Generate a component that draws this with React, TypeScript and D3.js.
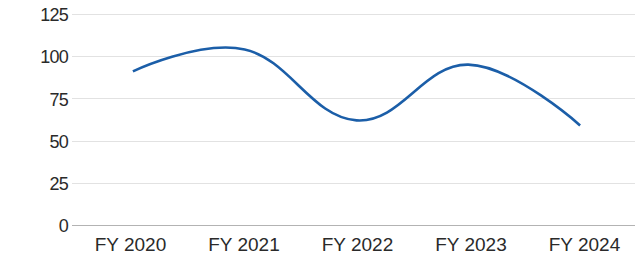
import * as d3 from 'd3';

const width = 635;
const height = 257;
const margin = { top: 14, left: 77, bottom: 32, right: 0 };

const categories = ['FY 2020', 'FY 2021', 'FY 2022', 'FY 2023', 'FY 2024'];
const values = [91, 104, 62, 95, 59];
const yTicks = [0, 25, 50, 75, 100, 125];

function App() {
  // points of the line
  const x = d3
    .scalePoint<string>()
    .domain(categories)
    .range([margin.left, width - margin.right + 1])
    .padding(0.5);

  // category labels sit on a slightly wider grid than the points
  const xLabel = d3
    .scalePoint<string>()
    .domain(categories)
    .range([73.75, 641.25])
    .padding(0.5);

  const y = d3
    .scaleLinear()
    .domain([0, 125])
    .range([height - margin.bottom, margin.top]);

  const line = d3
    .line<number>()
    .x((_, i) => x(categories[i]) || 0)
    .y((d) => y(d))
    .curve(d3.curveCardinal.tension(-0.2));

  return (
    <svg
      width={width}
      height={height}
      style={{ position: 'absolute', left: 0, top: 0, fontFamily: 'Liberation Sans, Arial, sans-serif' }}
    >
      <g>
        {yTicks.map((t) => (
          <g key={t}>
            <line
              x1={margin.left - 5}
              x2={width}
              y1={Math.round(y(t)) + 0.5}
              y2={Math.round(y(t)) + 0.5}
              stroke={t === 0 ? '#b3b3b3' : '#e2e2e2'}
              strokeWidth={1}
            />
            <text
              x={68}
              y={y(t)}
              dy="0.4em"
              textAnchor="end"
              fontSize={18}
              letterSpacing={-0.8}
              fill="#2a2a2a"
            >
              {t}
            </text>
          </g>
        ))}
      </g>
      <g>
        {categories.map((c) => (
          <text key={c} x={xLabel(c)} y={251} textAnchor="middle" fontSize={19} fill="#2a2a2a">
            {c}
          </text>
        ))}
      </g>
      <path d={line(values) || ''} fill="none" stroke="#1b5ea8" strokeWidth={2.6} />
    </svg>
  );
}

export default App;
